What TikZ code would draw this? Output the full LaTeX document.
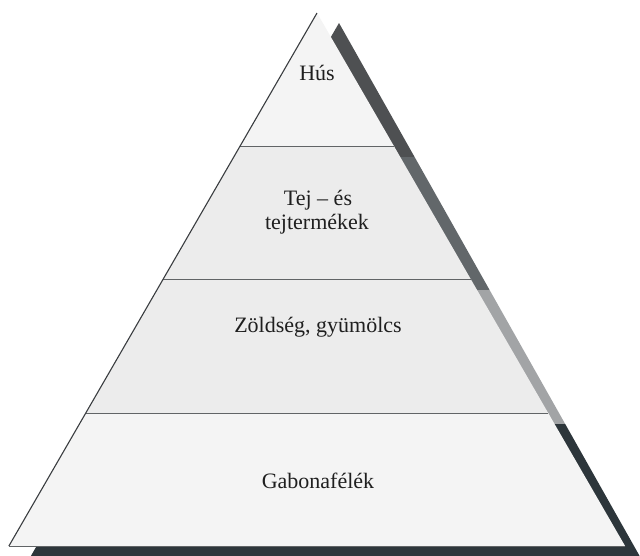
\documentclass[tikz,border=0pt]{standalone}
\usepackage{fontspec}
\setmainfont{Liberation Serif}
\definecolor{shA}{HTML}{4E5052}
\definecolor{shB}{HTML}{62676A}
\definecolor{shC}{HTML}{A2A4A6}
\definecolor{shD}{HTML}{2D363B}
\definecolor{bandlight}{HTML}{F4F4F4}
\definecolor{banddark}{HTML}{ECECEC}
\definecolor{edgecol}{HTML}{3A3D40}
\tikzset{
  shadowpart/.style={draw=none},
  bandpart/.style={draw=none},
  sepline/.style={draw=edgecol!80, line width=1pt},
  outline/.style={draw=edgecol, line width=1.1pt, line join=miter},
  lbl/.style={font=\fontsize{22}{24}\selectfont, text=black!88, anchor=base, inner sep=0pt}
}
\begin{document}
\begin{tikzpicture}[x=1pt,y=-1pt]
\useasboundingbox (0,0) rectangle (640,555);
\fill[white] (0,0) rectangle (640,555);
\clip (0,0) rectangle (640,555);
% triangle corners and band boundaries
\coordinate (apex) at (317,13);
\coordinate (l1) at (240.1,146); \coordinate (r1) at (393.9,146);
\coordinate (l2) at (163.3,279); \coordinate (r2) at (470.7,279);
\coordinate (l3) at (85.8,413);  \coordinate (r3) at (548.2,413);
\coordinate (l4) at (8.9,546);   \coordinate (r4) at (625.1,546);
% shadow corners
\coordinate (sapex) at (339,23);
\coordinate (sl1) at (261.5,157); \coordinate (sr1) at (414.6,157);
\coordinate (sl2) at (184.7,290); \coordinate (sr2) at (489.6,290);
\coordinate (sl3) at (107.2,424); \coordinate (sr3) at (565.2,424);
\coordinate (sl4) at (30.3,557);  \coordinate (sr4) at (640.2,557);
% shadow
\fill[shadowpart, shA] (sapex) -- (sr1) -- (sl1) -- cycle;
\fill[shadowpart, shB] (sl1) -- (sr1) -- (sr2) -- (sl2) -- cycle;
\fill[shadowpart, shC] (sl2) -- (sr2) -- (sr3) -- (sl3) -- cycle;
\fill[shadowpart, shD] (sl3) -- (sr3) -- (sr4) -- (sl4) -- cycle;
% bands
\fill[bandpart, bandlight] (apex) -- (r1) -- (l1) -- cycle;
\fill[bandpart, banddark] (l1) -- (r1) -- (r2) -- (l2) -- cycle;
\fill[bandpart, banddark] (l2) -- (r2) -- (r3) -- (l3) -- cycle;
\fill[bandpart, bandlight] (l3) -- (r3) -- (r4) -- (l4) -- cycle;
% separators and outline
\draw[sepline] (l1) -- (r1);
\draw[sepline] (l2) -- (r2);
\draw[sepline] (l3) -- (r3);
\draw[outline] (l4) -- (apex);
\draw[sepline] (l4) -- (r4);
% labels
\node[lbl] (hus) at (317,80) {Hús};
\node[lbl] (tej1) at (318,205) {Tej – és};
\node[lbl] (tej2) at (317,229) {tejtermékek};
\node[lbl] (zold) at (318,332) {Zöldség, gyümölcs};
\node[lbl] (gab) at (318,488) {Gabonafélék};
\end{tikzpicture}
\end{document}
